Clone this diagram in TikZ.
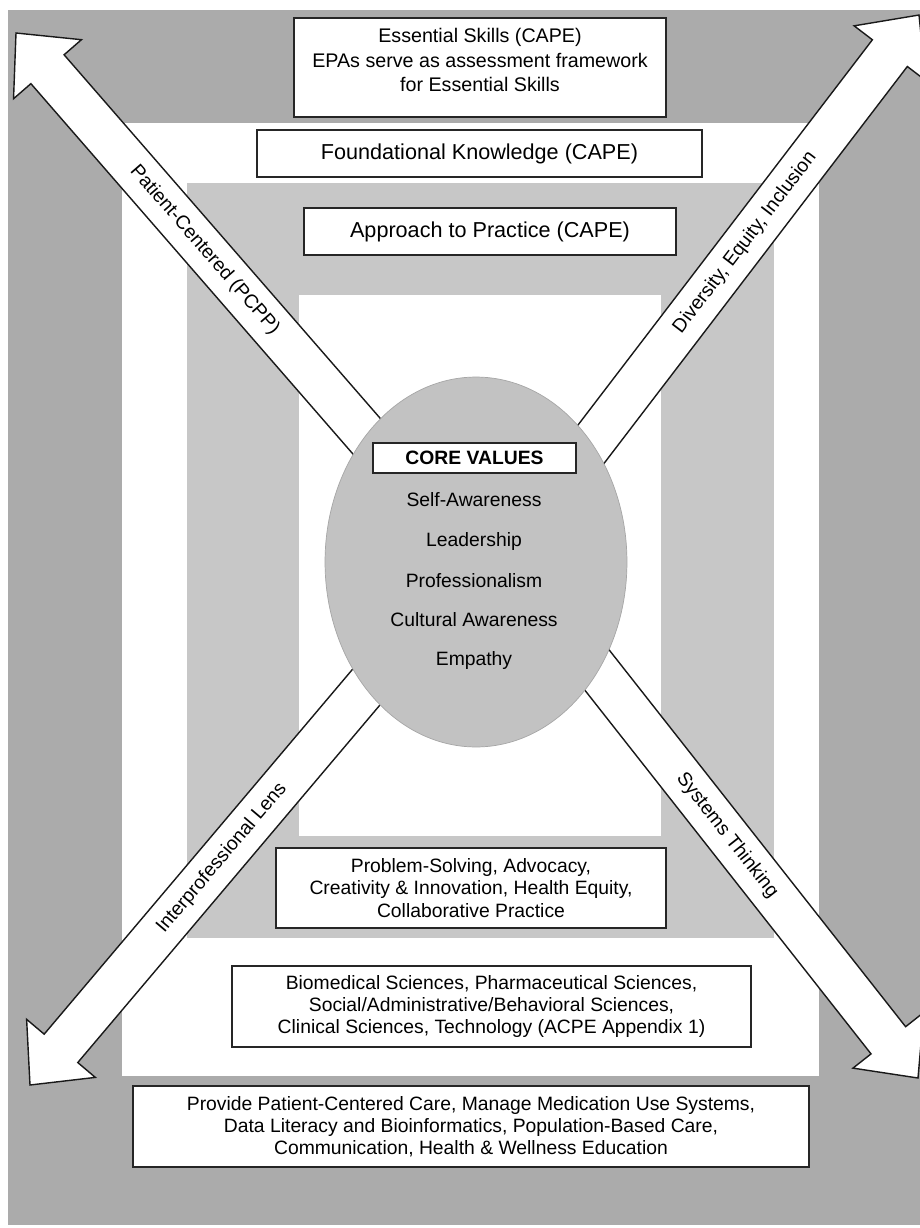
\documentclass[tikz,border=0pt]{standalone}
\usepackage{fontspec}
\setmainfont{Liberation Sans}
\usepackage{tikz}
\usetikzlibrary{calc}
\usetikzlibrary{shapes.geometric}

\definecolor{outergray}{gray}{0.67}
\definecolor{innergray}{gray}{0.78}
\definecolor{coregray}{gray}{0.76}

% block arrow from base #1 to tip #2
\newcommand{\blockarrow}[2]{%
	\coordinate (h) at ($(#2)!0.96cm!(#1)$);
	\draw[arrowbody] ($(#1)!0.44cm!90:(#2)$) -- ($(h)!0.44cm!90:(#2)$) -- ($(h)!0.9cm!90:(#2)$) -- (#2)
		-- ($(h)!0.9cm!-90:(#2)$) -- ($(h)!0.44cm!-90:(#2)$) -- ($(#1)!0.44cm!-90:(#2)$) -- cycle;
}

\begin{document}
\begin{tikzpicture}[x=0.02cm, y=-0.02cm,
		box/.style={draw=black!85, line width=0.8pt, fill=white, inner sep=0pt},
		arrowbody/.style={draw=black!90, line width=0.8pt, fill=white, line join=miter},
		bodytext/.style={font=\fontsize{11}{12.6}\selectfont, align=center},
		bigtext/.style={font=\fontsize{12.3}{14}\selectfont},
		valuetext/.style={font=\fontsize{11}{13}\selectfont},
		arrowtext/.style={font=\fontsize{11}{12}\selectfont, sloped}]
	\clip (0, 0) rectangle (920, 1228);
	\fill[white] (0, 0) rectangle (920, 1228);

	% nested frames
	\fill[outergray] (8, 10) rectangle (920, 1225);
	\fill[white] (122, 123) rectangle (819, 1076);
	\fill[innergray] (187, 183) rectangle (774, 938);
	\fill[white] (299, 295) rectangle (661, 836);

	% boxes
	\node[box, minimum width=7.44cm, minimum height=1.98cm] (ess) at (480, 67.5) {};
	\node[bodytext, font=\fontsize{11.2}{14.2}\selectfont] (esstext) at (480, 60) {Essential Skills (CAPE)\\EPAs serve as assessment framework\\for Essential Skills};
	\node[box, bigtext, minimum width=8.9cm, minimum height=0.94cm] (found) at (479.5, 153.5) {Foundational Knowledge (CAPE)};
	\node[box, bigtext, minimum width=7.44cm, minimum height=0.94cm] (appr) at (490, 231.5) {Approach to Practice (CAPE)};
	\node[box, bodytext, minimum width=7.8cm, minimum height=1.6cm] (prob) at (471, 888) {Problem-Solving, Advocacy,\\Creativity \& Innovation, Health Equity,\\Collaborative Practice};
	\node[box, bodytext, minimum width=10.38cm, minimum height=1.62cm] (bio) at (491.5, 1006.5) {Biomedical Sciences, Pharmaceutical Sciences,\\Social/Administrative/Behavioral Sciences,\\Clinical Sciences, Technology (ACPE Appendix 1)};
	\node[box, bodytext, minimum width=13.52cm, minimum height=1.62cm] (prov) at (471, 1126.5) {Provide Patient-Centered Care, Manage Medication Use Systems,\\Data Literacy and Bioinformatics, Population-Based Care,\\Communication, Health \& Wellness Education};

	% the four arrows
	\coordinate (nwbase) at (476, 562);
	\coordinate (nwtip) at (16, 33);
	\coordinate (nebase) at (501, 562);
	\coordinate (netip) at (919, 15);
	\coordinate (swbase) at (472, 562);
	\coordinate (swtip) at (30, 1085);
	\coordinate (sebase) at (512, 562);
	\coordinate (setip) at (918, 1078);
	\blockarrow{nwbase}{nwtip}
	\blockarrow{nebase}{netip}
	\blockarrow{swbase}{swtip}
	\blockarrow{sebase}{setip}
	\path (nwbase) -- (nwtip) node[arrowtext, pos=0.59] (nwlabel) {Patient-Centered (PCPP)};
	\path (nebase) -- (netip) node[arrowtext, pos=0.584] (nelabel) {Diversity, Equity, Inclusion};
	\path (swbase) -- (swtip) node[arrowtext, pos=0.566] (swlabel) {Interprofessional Lens};
	\path (sebase) -- (setip) node[arrowtext, pos=0.53] (selabel) {Systems Thinking};

	% core values
	\node[ellipse, draw=gray!70, line width=0.4pt, fill=coregray, minimum width=6.04cm, minimum height=7.4cm] (core) at (476, 562) {};
	\node[box, font=\fontsize{11}{13}\selectfont\bfseries, minimum width=4.06cm, minimum height=0.6cm] (corehead) at (474.5, 458) {CORE VALUES};
	\node[valuetext] (self) at (474, 500) {Self-Awareness};
	\node[valuetext] (lead) at (474, 541) {Leadership};
	\node[valuetext] (prof) at (474, 581) {Professionalism};
	\node[valuetext] (cult) at (474, 620) {Cultural Awareness};
	\node[valuetext] (emp) at (474, 660) {Empathy};
\end{tikzpicture}
\end{document}
